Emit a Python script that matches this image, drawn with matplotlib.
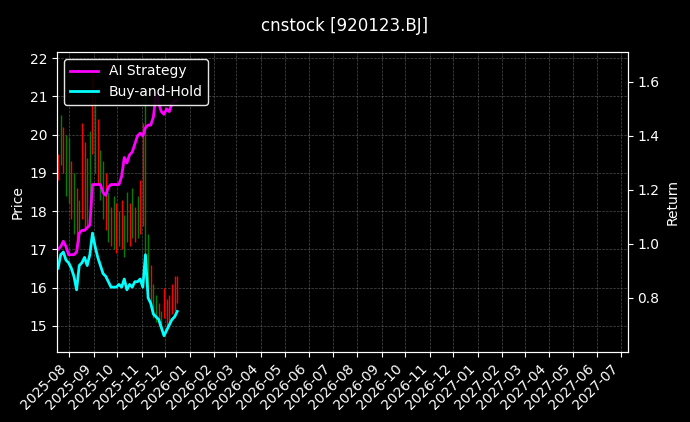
import matplotlib
matplotlib.use("Agg")
import matplotlib.pyplot as plt
import matplotlib.dates as mdates
import pandas as pd

dates = pd.date_range("2025-07-18", "2025-12-16", periods=46)
high = [19.5,20.5,20.2,20.0,19.9,19.3,19.0,18.6,18.3,20.3,19.8,19.4,20.1,21.6,21.0,20.4,19.6,19.3,19.0,18.5,18.1,18.4,18.2,18.0,18.3,17.9,18.5,18.2,18.6,18.1,18.4,18.8,20.3,21.0,17.4,16.6,16.1,15.8,15.6,15.4,16.0,15.7,15.8,16.1,16.3,16.3]
low  = [18.8,19.2,19.0,18.4,18.2,17.8,17.4,17.0,17.2,17.8,17.5,17.6,18.2,19.5,19.0,18.7,18.3,17.8,17.5,17.2,17.1,17.0,16.9,17.1,17.0,16.8,17.2,17.1,17.3,17.2,17.3,17.4,17.6,16.8,16.0,15.6,15.2,15.1,15.0,14.9,15.2,15.0,15.1,15.3,15.4,15.6]
up   = [1,0,1,0,0,1,0,1,0,1,1,0,0,1,0,1,0,0,1,0,1,0,1,0,1,0,0,1,0,1,0,1,1,0,0,1,0,0,1,0,1,1,1,1,1,1]
strategy = [0.98,0.99,1.01,0.99,0.96,0.96,0.96,0.97,1.04,1.05,1.05,1.06,1.07,1.22,1.22,1.22,1.22,1.19,1.18,1.21,1.22,1.22,1.22,1.22,1.25,1.32,1.30,1.33,1.34,1.37,1.40,1.41,1.40,1.43,1.44,1.44,1.47,1.56,1.52,1.49,1.48,1.50,1.49,1.52,1.53,1.53]
buyhold = [0.91,0.96,0.97,0.94,0.93,0.91,0.88,0.83,0.92,0.93,0.95,0.92,0.96,1.04,0.99,0.95,0.92,0.89,0.88,0.86,0.84,0.84,0.84,0.85,0.84,0.87,0.83,0.85,0.84,0.86,0.86,0.87,0.84,0.96,0.80,0.78,0.74,0.73,0.72,0.69,0.66,0.68,0.70,0.72,0.73,0.75]
return_ticks = [0.8, 1.0, 1.2, 1.4, 1.6]

plt.rcParams['font.family'] = ['DejaVu Sans']
fig = plt.figure(figsize=(6.9, 4.22), dpi=100, facecolor="black")
ax = fig.add_axes([0.083, 0.166, 0.827, 0.711], facecolor="black")
cols = ["red" if u else "green" for u in up]
ax.vlines(dates, low, high, colors=cols, linewidth=1.0)
ax.set_ylim(14.32, 22.16)
ax.set_xlim(pd.Timestamp("2025-07-17"), pd.Timestamp("2027-07-10"))
ax.set_ylabel("Price", color="white")
ax.grid(True, color="gray", linestyle="--", linewidth=0.5, alpha=0.6)
ax.xaxis.set_major_locator(mdates.MonthLocator())
ax.xaxis.set_major_formatter(mdates.DateFormatter("%Y-%m"))
plt.setp(ax.get_xticklabels(), rotation=45, ha="right")

ax2 = ax.twinx()
ax2.plot(dates, strategy, color="magenta", linewidth=2, label="AI Strategy")
ax2.plot(dates, buyhold, color="cyan", linewidth=2, label="Buy-and-Hold")
ax2.set_ylim(0.6, 1.711)
ax2.set_yticks(return_ticks)
ax2.set_ylabel("Return", color="white")
for a in (ax, ax2):
    a.tick_params(colors="white")
    for s in a.spines.values():
        s.set_color("white")
leg = ax2.legend(loc="upper left", facecolor="black", edgecolor="white", framealpha=0.9)
for t in leg.get_texts():
    t.set_color("white")
fig.suptitle("cnstock [920123.BJ]", color="white", fontsize=12, y=0.96)
fig.savefig("out.png", dpi=100, facecolor="black")
